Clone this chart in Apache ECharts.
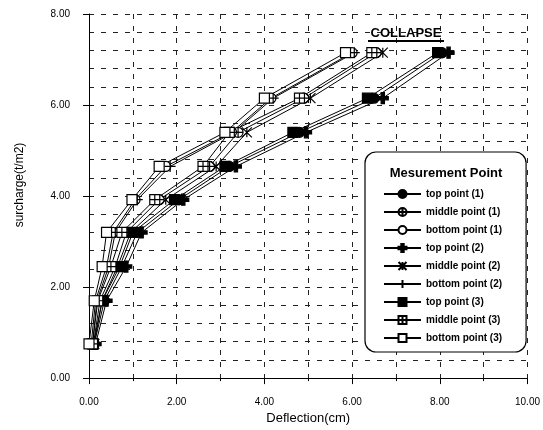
<!DOCTYPE html>
<html lang="en">
<head>
    <meta charset="UTF-8">
    <title>surcharge vs deflection</title>
    <script type="text/javascript" src="https://cdn.jsdelivr.net/npm/echarts@6/dist/echarts.min.js"></script>
</head>
<body style="margin:0;background:#fff;">
    <div id="main" style="width: 543px; height: 430px;"></div>

    <script type="text/javascript">
        // surcharge levels (t/m2), same for every series
        var surcharge = [0.75, 1.7, 2.45, 3.2, 3.92, 4.65, 5.4, 6.15, 7.15];

        // deflection (cm)
        var top1 = [0.12, 0.35, 0.75, 1.10, 2.05, 3.20, 4.80, 6.50, 8.05];
        var mid1 = [0.10, 0.25, 0.60, 0.85, 1.60, 2.75, 3.40, 4.90, 6.55];
        var bot1 = [0.05, 0.15, 0.40, 0.55, 1.05, 1.75, 3.25, 4.15, 6.00];
        var top2 = [0.15, 0.40, 0.85, 1.20, 2.15, 3.35, 4.95, 6.70, 8.20];
        var mid2 = [0.12, 0.30, 0.65, 0.95, 1.75, 2.90, 3.60, 5.05, 6.70];
        var bot2 = [0.08, 0.18, 0.45, 0.60, 1.10, 1.85, 3.30, 4.20, 6.05];
        var top3 = [0.10, 0.30, 0.70, 1.00, 1.95, 3.10, 4.65, 6.35, 7.95];
        var mid3 = [0.08, 0.20, 0.50, 0.75, 1.50, 2.60, 3.20, 4.80, 6.45];
        var bot3 = [0.00, 0.12, 0.30, 0.40, 0.98, 1.60, 3.10, 4.00, 5.85];

        var names = ['top point (1)', 'middle point (1)', 'bottom point (1)',
                     'top point (2)', 'middle point (2)', 'bottom point (2)',
                     'top point (3)', 'middle point (3)', 'bottom point (3)'];
        var values = [top1, mid1, bot1, top2, mid2, bot2, top3, mid3, bot3];

        // marker shapes
        var circleCross = 'path://M0,10 A10,10 0 1,1 20,10 A10,10 0 1,1 0,10 Z M0,10 L20,10 M10,0 L10,20';
        var openCircle = 'path://M0,10 A10,10 0 1,1 20,10 A10,10 0 1,1 0,10 Z';
        var fatPlus = 'path://M7,0 L13,0 L13,7 L20,7 L20,13 L13,13 L13,20 L7,20 L7,13 L0,13 L0,7 L7,7 Z';
        var star = 'path://M0,0 L20,20 M0,20 L20,0 M10,0 L10,20';
        var thinPlus = 'path://M0,10 L20,10 M10,0 L10,20';
        var rectCross = 'path://M0,0 L20,0 L20,20 L0,20 Z M0,10 L20,10 M10,0 L10,20';
        var openRect = 'path://M0,0 L20,0 L20,20 L0,20 Z';

        var marks = [
            { symbol: 'circle', size: 10, fill: '#000' },
            { symbol: circleCross, size: 10, fill: '#fff' },
            { symbol: openCircle, size: 10, fill: '#fff' },
            { symbol: fatPlus, size: 11, fill: '#000' },
            { symbol: star, size: 10, fill: '#000' },
            { symbol: thinPlus, size: 11, fill: '#000' },
            { symbol: 'rect', size: 10, fill: '#000' },
            { symbol: rectCross, size: 10, fill: '#fff' },
            { symbol: openRect, size: 10, fill: '#fff' }
        ];

        var series = [];
        for (var i = 0; i < names.length; i++) {
            var pts = [];
            for (var j = 0; j < surcharge.length; j++) {
                pts.push([values[i][j], surcharge[j]]);
            }
            series.push({
                name: names[i],
                type: 'line',
                data: pts,
                symbol: marks[i].symbol,
                symbolSize: marks[i].size,
                symbolKeepAspect: true,
                lineStyle: { color: '#000', width: 1 },
                itemStyle: { color: marks[i].fill, borderColor: '#000', borderWidth: 1.2 },
                emphasis: { disabled: true },
                animation: false
            });
        }

        var font = 'Liberation Sans, Arial, sans-serif';
        var dash = { color: '#222', width: 1, type: [5, 7] };

        var myChart = echarts.init(document.getElementById('main'));

        myChart.setOption({
            animation: false,
            grid: { left: 89, right: 12, top: 14, bottom: 48 },
            xAxis: {
                type: 'value',
                min: 0, max: 10, interval: 2,
                name: 'Deflection(cm)',
                nameLocation: 'middle',
                nameGap: 33,
                nameTextStyle: { color: '#000', fontFamily: font, fontSize: 13 },
                axisLine: { lineStyle: { color: '#000', width: 1 } },
                axisTick: { length: 6, lineStyle: { color: '#000' } },
                minorTick: { show: true, splitNumber: 2, length: 3, lineStyle: { color: '#000' } },
                axisLabel: {
                    color: '#000', fontFamily: font, fontSize: 10, margin: 19,
                    formatter: function (v) { return v.toFixed(2); }
                },
                splitLine: { lineStyle: dash },
                minorSplitLine: { show: true, lineStyle: dash }
            },
            yAxis: {
                type: 'value',
                min: 0, max: 8, interval: 2,
                axisLine: { show: true, lineStyle: { color: '#000', width: 1 } },
                axisTick: { show: true, length: 6, lineStyle: { color: '#000' } },
                axisLabel: {
                    color: '#000', fontFamily: font, fontSize: 10, margin: 19,
                    formatter: function (v) { return v.toFixed(2); }
                },
                splitLine: { lineStyle: dash },
                minorSplitLine: { show: true, lineStyle: dash }
            },
            legend: {
                orient: 'vertical',
                left: 365, top: 152,
                padding: [37, 24, 9, 18],
                itemWidth: 37, itemHeight: 10, itemGap: 8,
                backgroundColor: '#fff',
                borderColor: '#000', borderWidth: 1.2, borderRadius: 11,
                textStyle: { color: '#000', fontFamily: font, fontSize: 10, fontWeight: 'bold' },
                data: names
            },
            graphic: [
                {
                    type: 'text', x: 20, y: 185, rotation: Math.PI / 2,
                    style: { text: 'surcharge(t/m2)', fill: '#000', font: '12px ' + font,
                             textAlign: 'center', textVerticalAlign: 'middle' }
                },
                {
                    type: 'text', x: 406, y: 33, z: 10,
                    style: { text: 'COLLAPSE', fill: '#000', font: 'bold 13px ' + font,
                             textAlign: 'center', textVerticalAlign: 'middle' }
                },
                {
                    type: 'line', z: 10,
                    shape: { x1: 368, y1: 41, x2: 444, y2: 41 },
                    style: { stroke: '#000', lineWidth: 2 }
                },
                {
                    type: 'text', x: 446, y: 173, z: 20,
                    style: { text: 'Mesurement Point', fill: '#000', font: 'bold 13px ' + font,
                             textAlign: 'center', textVerticalAlign: 'middle' }
                }
            ],
            series: series
        });
    </script>
</body>
</html>
